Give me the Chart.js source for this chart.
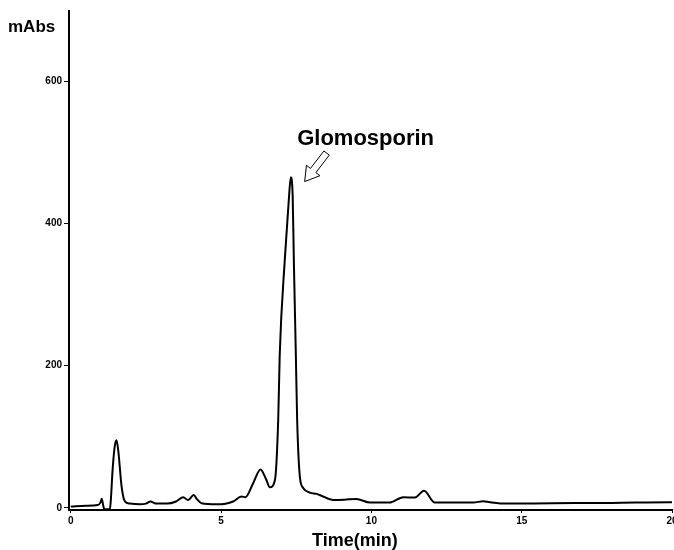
<!DOCTYPE html>
<html>
<head>
<meta charset="utf-8">
<script src="https://cdn.jsdelivr.net/npm/chart.js@4.4.1/dist/chart.umd.min.js"></script>
<style>
  html, body { margin: 0; padding: 0; background: #fff; overflow: hidden; }
  #wrap { width: 674px; height: 550px; }
</style>
</head>
<body>
<div id="wrap"><canvas id="chart" width="674" height="550"></canvas></div>
<script>
// retention time (min)
const timeMin = [
  0, 0.5, 0.9, 0.98, 1.03, 1.08, 1.12, 1.3, 1.33, 1.39, 1.46, 1.52, 1.58, 1.69, 1.8, 1.96,
  2.3, 2.5, 2.65, 2.85, 3.2, 3.5, 3.74, 3.9, 4.09, 4.2, 4.35, 4.85, 5.1, 5.4, 5.68, 5.81,
  6.07, 6.31, 6.5, 6.62, 6.79, 6.9, 6.95, 7.12, 7.25, 7.32, 7.38, 7.42, 7.49, 7.53, 7.62,
  7.73, 7.95, 8.18, 8.34, 8.73, 9.1, 9.5, 9.95, 10.6, 11.06, 11.45, 11.75, 12.11, 13.39,
  13.72, 13.94, 14.5, 16, 18, 19.93, 20,
];
// absorbance (mAbs)
const absorbance = [
  2, 3, 4, 7, 13, 3, -2, -2, 10, 53, 86, 95, 80, 30, 9, 6,
  5, 6, 9, 6, 6, 9, 15, 11, 18, 12, 6.5, 5, 5.5, 9, 16, 15,
  35, 54, 40, 29, 39, 124, 215, 350, 432, 465, 440, 348, 208, 124, 44,
  28, 21.5, 19.7, 17, 11, 11.5, 12.6, 7.5, 7.5, 15, 14.5, 24, 7.5, 7.5,
  9.4, 8, 6, 6.5, 7, 8, 8,
];
const yTicks = [0, 200, 400, 600];
const xTicks = [0, 5, 10, 15, 20];
const peakName = "Glomosporin";
const yUnit = "mAbs";
const xTitle = "Time(min)";

const points = timeMin.map((t, i) => ({ x: t, y: absorbance[i] }));

const labelsPlugin = {
  id: "labels",
  afterDraw(chart) {
    const { ctx, scales: { x, y } } = chart;
    ctx.save();
    ctx.fillStyle = "#000";
    ctx.textBaseline = "middle";
    ctx.textAlign = "left";
    ctx.font = "bold 17px 'Liberation Sans', Arial, sans-serif";
    ctx.fillText(yUnit, 8, 27);

    ctx.textAlign = "center";
    ctx.font = "bold 18px 'Liberation Sans', Arial, sans-serif";
    ctx.fillText(xTitle, x.getPixelForValue(9.45), 541);

    // peak label
    ctx.textAlign = "left";
    ctx.textBaseline = "alphabetic";
    ctx.font = "bold 22px 'Liberation Sans', Arial, sans-serif";
    ctx.fillText(peakName, x.getPixelForValue(7.53), y.getPixelForValue(510));

    // hollow arrow pointing at the peak
    const tipX = x.getPixelForValue(7.78);
    const tipY = y.getPixelForValue(459);
    const d = [0.609, -0.793];
    const p = [0.793, 0.609];
    const at = (along, side) => [tipX + d[0] * along + p[0] * side, tipY + d[1] * along + p[1] * side];
    const pts = [at(0, 0), at(14, 8.5), at(14, 3.4), at(36, 3.4), at(36, -3.4), at(14, -3.4), at(14, -8.5)];
    ctx.beginPath();
    pts.forEach((q, i) => (i ? ctx.lineTo(q[0], q[1]) : ctx.moveTo(q[0], q[1])));
    ctx.closePath();
    ctx.fillStyle = "#fff";
    ctx.fill();
    ctx.strokeStyle = "#000";
    ctx.lineWidth = 1;
    ctx.stroke();
    ctx.restore();
  },
};

new Chart(document.getElementById("chart"), {
  type: "line",
  data: {
    datasets: [
      {
        data: points,
        borderColor: "#000",
        borderWidth: 2,
        pointRadius: 0,
        cubicInterpolationMode: "monotone",
        fill: false,
      },
    ],
  },
  options: {
    responsive: false,
    animation: false,
    layout: { padding: { top: 11, right: 2, left: 0, bottom: 0 } },
    plugins: { legend: { display: false }, tooltip: { enabled: false } },
    scales: {
      x: {
        type: "linear",
        min: -0.06,
        max: 20,
        afterBuildTicks: (s) => { s.ticks = xTicks.map((v) => ({ value: v })); },
        afterFit: (s) => { s.paddingRight = 0; s.height = 40; },
        grid: { drawOnChartArea: false, drawTicks: true, tickLength: 3, color: "#000", lineWidth: 1 },
        border: { display: true, color: "#000", width: 2 },
        ticks: {
          color: "#000",
          padding: 2,
          maxRotation: 0,
          font: { family: "'Liberation Sans', Arial, sans-serif", size: 10, weight: "bold" },
        },
      },
      y: {
        min: -3,
        max: 699,
        afterBuildTicks: (s) => { s.ticks = yTicks.map((v) => ({ value: v })); },
        afterFit: (s) => { s.width = 69; },
        grid: { drawOnChartArea: false, drawTicks: true, tickLength: 5, color: "#000", lineWidth: 1 },
        border: { display: true, color: "#000", width: 2 },
        ticks: {
          color: "#000",
          padding: 2,
          font: { family: "'Liberation Sans', Arial, sans-serif", size: 10, weight: "bold" },
        },
      },
    },
  },
  plugins: [labelsPlugin],
});
</script>
</body>
</html>
